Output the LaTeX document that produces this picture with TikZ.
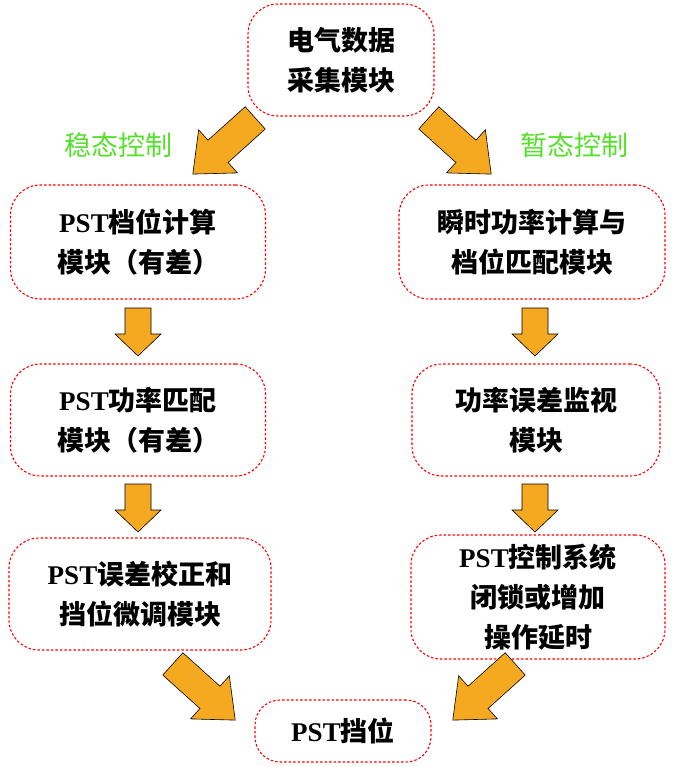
\documentclass[tikz,border=0pt]{standalone}
\usepackage{fontspec}
\setmainfont{Liberation Serif}
\newfontfamily\cjk{Noto Sans CJK SC}
\definecolor{arr}{HTML}{F5A921}
\definecolor{grn}{HTML}{55E02A}
\tikzset{
 box/.style={draw=red, dash pattern=on 2.5pt off 2pt, line width=1.1pt, rounded corners=30pt, align=center, font=\fontsize{27}{40}\selectfont\cjk\bfseries, inner sep=0pt},
 lab/.style={text=grn, font=\fontsize{27}{32}\selectfont\cjk},
 barrow/.style={draw=black, fill=arr, line width=0.6pt, line join=miter}
}
% x y angle length shaftw headw headlen  (points along +x before rotation, centred)
\newcommand{\blockarrow}[7]{%
 \begin{scope}[shift={(#1,#2)}, rotate=#3]
 \draw[barrow] (-#4/2,-#5/2) -- (#4/2-#7,-#5/2) -- (#4/2-#7,-#6/2) -- (#4/2,0) -- (#4/2-#7,#6/2) -- (#4/2-#7,#5/2) -- (-#4/2,#5/2) -- cycle;
 \end{scope}}
\newcommand{\pst}{{\rmfamily\bfseries PST}}
\begin{document}
\begin{tikzpicture}[x=1pt,y=-1pt]
\useasboundingbox (0,0) rectangle (684,767);
\node[box, minimum width=186pt, minimum height=112pt] (a) at (341,60) {电气数据\\采集模块};
\node[box, minimum width=255pt, minimum height=114pt] (l1) at (138,242) {\pst 档位计算\\模块（有差）};
\node[box, minimum width=266pt, minimum height=114pt] (r1) at (532,242) {瞬时功率计算与\\档位匹配模块};
\node[box, minimum width=255pt, minimum height=112pt] (l2) at (138,420) {\pst 功率匹配\\模块（有差）};
\node[box, minimum width=248pt, minimum height=112pt] (r2) at (536,420) {功率误差监视\\模块};
\node[box, minimum width=262pt, minimum height=112pt] (l3) at (140,594) {\pst 误差校正和\\挡位微调模块};
\node[box, minimum width=254pt, minimum height=124pt] (r3) at (538,597) {\pst 控制系统\\闭锁或增加\\操作延时};
\node[box, minimum width=176pt, minimum height=62pt, rounded corners=25pt] (b) at (343,731) {\pst 挡位};
\node[lab] (s1) at (118,145) {稳态控制};
\node[lab] (s2) at (574,145) {暂态控制};
\blockarrow{224}{146}{-138}{84}{30}{58}{34}
\blockarrow{460}{146}{-42}{84}{30}{58}{34}
\blockarrow{138}{332}{-90}{48}{26}{46}{22}
\blockarrow{535}{332}{-90}{48}{26}{46}{22}
\blockarrow{138}{508}{-90}{48}{26}{46}{22}
\blockarrow{535}{508}{-90}{48}{26}{46}{22}
\blockarrow{204}{692}{-42}{84}{30}{58}{34}
\blockarrow{484}{692}{-138}{84}{30}{58}{34}
\end{tikzpicture}
\end{document}
